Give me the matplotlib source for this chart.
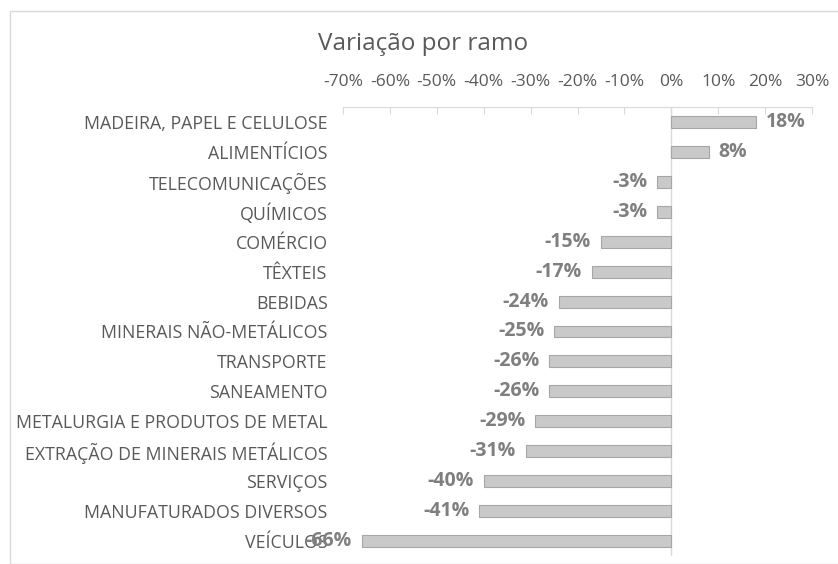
import matplotlib
matplotlib.use("Agg")
import matplotlib.pyplot as plt
from matplotlib.patches import Rectangle
from matplotlib.ticker import FuncFormatter

categories = ["MADEIRA, PAPEL E CELULOSE", "ALIMENTÍCIOS", "TELECOMUNICAÇÕES", "QUÍMICOS",
              "COMÉRCIO", "TÊXTEIS", "BEBIDAS", "MINERAIS NÃO-METÁLICOS", "TRANSPORTE",
              "SANEAMENTO", "METALURGIA E PRODUTOS DE METAL", "EXTRAÇÃO DE MINERAIS METÁLICOS",
              "SERVIÇOS", "MANUFATURADOS DIVERSOS", "VEÍCULOS"]
values = [18, 8, -3, -3, -15, -17, -24, -25, -26, -26, -29, -31, -40, -41, -66]
ticks = [-70, -60, -50, -40, -30, -20, -10, 0, 10, 20, 30]

plt.rcParams['font.family'] = ['Open Sans', 'DejaVu Sans']

fig = plt.figure(figsize=(8.38, 5.64), dpi=100)
fig.patches.append(Rectangle((10/838, 0), 1, 1 - 11/564, transform=fig.transFigure,
                             fill=False, edgecolor="#d9d9d9", linewidth=1))
ax = fig.add_axes([343/838, 1 - 556/564, (812 - 343)/838, (556 - 107)/564])

y = list(range(len(categories)))
ax.barh(y, values, height=0.4, color="#c9c9c9", edgecolor="#a6a6a6", linewidth=0.8, zorder=3)
ax.set_xlim(-70, 30)
ax.set_ylim(len(categories) - 0.5, -0.5)
ax.set_xticks(ticks)
ax.xaxis.set_major_formatter(FuncFormatter(lambda v, p: f"{int(round(v))}%"))
ax.xaxis.tick_top()
ax.tick_params(axis='x', direction='in', length=5, color="#d9d9d9", labelcolor="#595959",
               labelsize=12.5, pad=12)
ax.set_yticks(y)
ax.set_yticklabels(categories)
ax.tick_params(axis='y', length=0, labelcolor="#595959", labelsize=12.8, pad=11)
for s in ['right', 'bottom', 'left']:
    ax.spines[s].set_visible(False)
ax.spines['top'].set_color("#d9d9d9")
ax.axvline(0, color="#d9d9d9", linewidth=1, zorder=2)

for yi, v in zip(y, values):
    if v >= 0:
        ax.text(v + 2.1, yi, f"{v}%", ha='left', va='center', fontsize=14,
                fontweight='bold', color="#7f7f7f")
    else:
        ax.text(v - 2.1, yi, f"{v}%", ha='right', va='center', fontsize=14,
                fontweight='bold', color="#7f7f7f")

fig.text(423/838, 1 - 44/564, "Variação por ramo", ha='center', va='center',
         fontsize=17.5, color="#595959")

fig.savefig("out.png", dpi=100)
